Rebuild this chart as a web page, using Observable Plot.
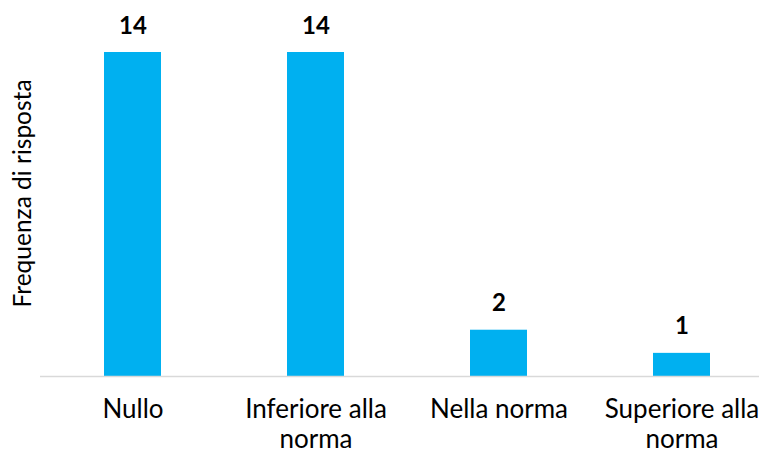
<!DOCTYPE html>
<html>
<head>
<meta charset="utf-8">
<script src="https://cdn.jsdelivr.net/npm/d3@7"></script>
<script src="https://cdn.jsdelivr.net/npm/@observablehq/plot@0.6"></script>
<style>
  html, body { margin: 0; padding: 0; background: #fff; }
  #chart svg { display: block; }
</style>
</head>
<body>
<div id="chart"></div>
<script>
// Response categories and their frequencies
const categories = ["Nullo", "Inferiore alla norma", "Nella norma", "Superiore alla norma"];
const tickLabels = ["Nullo", "Inferiore alla\nnorma", "Nella norma", "Superiore alla\nnorma"];
const counts = [14, 14, 2, 1];
const yTitle = "Frequenza di risposta";

const data = categories.map((c, i) => ({category: c, count: counts[i]}));
const labelOf = new Map(categories.map((c, i) => [c, tickLabels[i]]));

const font = "Lato, 'Open Sans', sans-serif";

const chart = Plot.plot({
  width: 759,
  height: 453,
  marginTop: 52,
  marginBottom: 77,
  marginLeft: 40,
  marginRight: 0,
  style: {fontFamily: font, color: "#000", background: "#fff"},
  x: {domain: categories, range: [40, 773], paddingInner: 0.69, paddingOuter: 0.345},
  y: {domain: [0, 14], axis: null},
  marks: [
    Plot.barY(data, {x: "category", y: "count", fill: "#00B0F0"}),
    Plot.ruleY([0], {stroke: "#D9D9D9", strokeWidth: 1.6}),
    Plot.text(data, {
      x: "category", y: "count", text: d => String(d.count),
      lineAnchor: "bottom", dy: -19, fontSize: 24, fontWeight: "bold", fill: "#000"
    }),
    Plot.axisX({
      tickSize: 0, tickPadding: 20, fontSize: 26, lineHeight: 1.15,
      tickFormat: c => labelOf.get(c), label: null, fill: "#000"
    }),
    // Vertical axis title, centred on the bar area
    Plot.text([yTitle], {
      frameAnchor: "left", rotate: -90, textAnchor: "middle", lineAnchor: "bottom",
      dx: -10, dy: -21, fontSize: 24.5, fill: "#000"
    })
  ]
});

document.getElementById("chart").appendChild(chart);
</script>
</body>
</html>
